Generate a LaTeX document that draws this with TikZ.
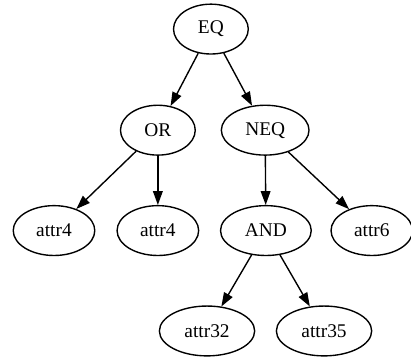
\documentclass[tikz,border=0pt]{standalone}
\usepackage{fontspec}
\setmainfont{Liberation Serif}
\usepackage{tikz}
\usetikzlibrary{arrows.meta,shapes.geometric}

\begin{document}
\begin{tikzpicture}[x=1pt,y=1pt,
    opnode/.style={draw, ellipse, line width=1pt, minimum width=54pt, minimum height=36pt,
      inner xsep=8pt, inner ysep=4pt, font=\fontsize{14}{16}\selectfont},
    edge/.style={line width=1pt, -{Triangle[length=10pt,width=7pt]}}]
        \useasboundingbox (0,0) rectangle (296.8,-260);
        % root
        \node[opnode] (eq) at (152.3,-21) {EQ};
        % second level
        \node[opnode] (or) at (114,-94) {OR};
        \node[opnode] (neq) at (191.5,-94) {NEQ};
        % third level
        \node[opnode] (attrA) at (39,-166.5) {attr4};
        \node[opnode] (attrB) at (114,-166.5) {attr4};
        \node[opnode] (and) at (192,-166.5) {AND};
        \node[opnode] (attrC) at (268.5,-166.5) {attr6};
        % leaves under AND
        \node[opnode] (attrD) at (149.5,-239) {attr32};
        \node[opnode] (attrE) at (234,-239) {attr35};
        % edges
        \draw[edge] (eq) -- (or);
        \draw[edge] (eq) -- (neq);
        \draw[edge] (or) -- (attrA);
        \draw[edge] (or) -- (attrB);
        \draw[edge] (neq) -- (and);
        \draw[edge] (neq) -- (attrC);
        \draw[edge] (and) -- (attrD);
        \draw[edge] (and) -- (attrE);
\end{tikzpicture}
\end{document}
